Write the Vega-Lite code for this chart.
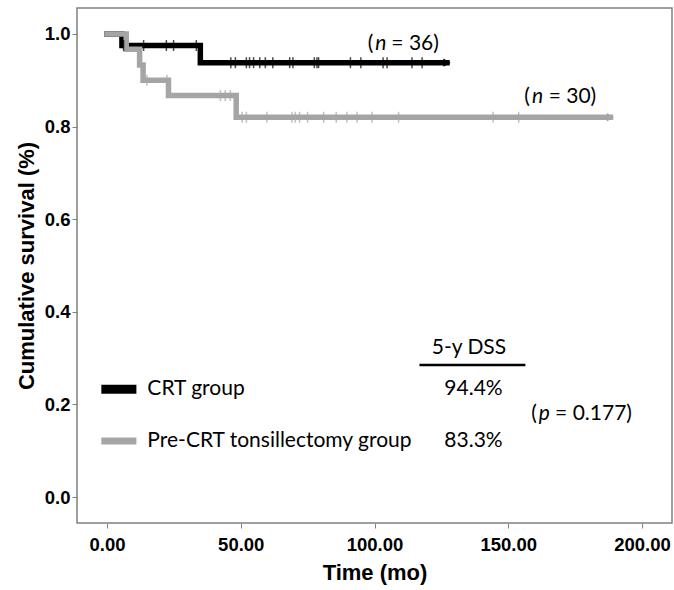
{
  "$schema": "https://vega.github.io/schema/vega-lite/v6.json",
  "width": 595,
  "height": 515,
  "autosize": {"type": "none"},
  "padding": {"left": 77, "top": 8, "right": 2, "bottom": 67},
  "background": "white",
  "data": {"values": [{}]},
  "config": {
    "view": {"stroke": "#808080", "strokeWidth": 1.5},
    "axis": {
      "domain": false, "grid": false, "tickColor": "#808080", "tickSize": 5, "tickWidth": 1,
      "labelFont": "Liberation Sans", "labelFontWeight": "bold", "labelFontSize": 18.5, "labelColor": "#000",
      "titleFont": "Liberation Sans", "titleFontWeight": "bold", "titleFontSize": 22, "titleColor": "#000"
    },
    "text": {"font": "Lato", "fontSize": 21, "color": "#000000", "align": "left", "baseline": "middle"}
  },
  "datasets": {
    "curves": [
      {"group": "CRT group", "t": 0, "s": 1.0},
      {"group": "CRT group", "t": 5.6, "s": 0.975},
      {"group": "CRT group", "t": 34.9, "s": 0.938},
      {"group": "CRT group", "t": 127.1, "s": 0.938},
      {"group": "Pre-CRT tonsillectomy group", "t": 0, "s": 1.0},
      {"group": "Pre-CRT tonsillectomy group", "t": 7.2, "s": 0.967},
      {"group": "Pre-CRT tonsillectomy group", "t": 12.2, "s": 0.933},
      {"group": "Pre-CRT tonsillectomy group", "t": 13.5, "s": 0.9},
      {"group": "Pre-CRT tonsillectomy group", "t": 23.0, "s": 0.867},
      {"group": "Pre-CRT tonsillectomy group", "t": 48.3, "s": 0.82},
      {"group": "Pre-CRT tonsillectomy group", "t": 188.2, "s": 0.82}
    ],
    "censored": [
      {"group": "CRT group", "t": 6.2, "s": 0.975},
      {"group": "CRT group", "t": 13.7, "s": 0.975},
      {"group": "CRT group", "t": 22.2, "s": 0.975},
      {"group": "CRT group", "t": 24.9, "s": 0.975},
      {"group": "CRT group", "t": 33.4, "s": 0.975},
      {"group": "CRT group", "t": 46.3, "s": 0.938},
      {"group": "CRT group", "t": 48.0, "s": 0.938},
      {"group": "CRT group", "t": 52.1, "s": 0.938},
      {"group": "CRT group", "t": 53.3, "s": 0.938},
      {"group": "CRT group", "t": 54.8, "s": 0.938},
      {"group": "CRT group", "t": 57.1, "s": 0.938},
      {"group": "CRT group", "t": 59.2, "s": 0.938},
      {"group": "CRT group", "t": 62.0, "s": 0.938},
      {"group": "CRT group", "t": 68.3, "s": 0.938},
      {"group": "CRT group", "t": 69.5, "s": 0.938},
      {"group": "CRT group", "t": 77.5, "s": 0.938},
      {"group": "CRT group", "t": 78.5, "s": 0.938},
      {"group": "CRT group", "t": 79.1, "s": 0.938},
      {"group": "CRT group", "t": 91.0, "s": 0.938},
      {"group": "CRT group", "t": 94.9, "s": 0.938},
      {"group": "CRT group", "t": 103.2, "s": 0.938},
      {"group": "CRT group", "t": 104.7, "s": 0.938},
      {"group": "CRT group", "t": 114.0, "s": 0.938},
      {"group": "CRT group", "t": 117.8, "s": 0.938},
      {"group": "Pre-CRT tonsillectomy group", "t": 14.9, "s": 0.9},
      {"group": "Pre-CRT tonsillectomy group", "t": 22.4, "s": 0.9},
      {"group": "Pre-CRT tonsillectomy group", "t": 42.4, "s": 0.867},
      {"group": "Pre-CRT tonsillectomy group", "t": 44.2, "s": 0.867},
      {"group": "Pre-CRT tonsillectomy group", "t": 46.1, "s": 0.867},
      {"group": "Pre-CRT tonsillectomy group", "t": 50.5, "s": 0.82},
      {"group": "Pre-CRT tonsillectomy group", "t": 52.1, "s": 0.82},
      {"group": "Pre-CRT tonsillectomy group", "t": 59.8, "s": 0.82},
      {"group": "Pre-CRT tonsillectomy group", "t": 69.2, "s": 0.82},
      {"group": "Pre-CRT tonsillectomy group", "t": 70.4, "s": 0.82},
      {"group": "Pre-CRT tonsillectomy group", "t": 72.0, "s": 0.82},
      {"group": "Pre-CRT tonsillectomy group", "t": 75.0, "s": 0.82},
      {"group": "Pre-CRT tonsillectomy group", "t": 81.0, "s": 0.82},
      {"group": "Pre-CRT tonsillectomy group", "t": 85.7, "s": 0.82},
      {"group": "Pre-CRT tonsillectomy group", "t": 89.7, "s": 0.82},
      {"group": "Pre-CRT tonsillectomy group", "t": 93.5, "s": 0.82},
      {"group": "Pre-CRT tonsillectomy group", "t": 99.1, "s": 0.82},
      {"group": "Pre-CRT tonsillectomy group", "t": 109.0, "s": 0.82},
      {"group": "Pre-CRT tonsillectomy group", "t": 144.3, "s": 0.82},
      {"group": "Pre-CRT tonsillectomy group", "t": 153.9, "s": 0.82}
    ],
    "ends": [
      {"group": "CRT group", "t": 127.1, "s": 0.938},
      {"group": "Pre-CRT tonsillectomy group", "t": 188.2, "s": 0.82}
    ]
  },
  "layer": [
    {
      "data": {"name": "curves"},
      "mark": {"type": "line", "interpolate": "step-after", "strokeWidth": 5.5, "strokeCap": "square"},
      "encoding": {
        "x": {"field": "t", "type": "quantitative", "title": "Time (mo)",
              "scale": {"domain": [-11.2, 211.2], "nice": false, "zero": false},
              "axis": {"values": [0, 50, 100, 150, 200], "format": ".2f", "labelPadding": 7, "titlePadding": 9}},
        "y": {"field": "s", "type": "quantitative", "title": "Cumulative survival (%)",
              "scale": {"domain": [-0.056, 1.056], "nice": false, "zero": false},
              "axis": {"values": [0, 0.2, 0.4, 0.6, 0.8, 1.0], "format": ".1f", "labelPadding": 2, "titlePadding": 6}},
        "color": {"field": "group", "type": "nominal",
                  "scale": {"domain": ["CRT group", "Pre-CRT tonsillectomy group"], "range": ["#000000", "#a5a5a5"]},
                  "legend": null}
      }
    },
    {
      "data": {"name": "censored"},
      "mark": {"type": "tick", "orient": "vertical", "size": 11, "thickness": 1.5},
      "encoding": {
        "x": {"field": "t", "type": "quantitative"},
        "y": {"field": "s", "type": "quantitative"},
        "color": {"field": "group", "type": "nominal", "legend": null}
      }
    },
    {
      "data": {"name": "ends"},
      "mark": {"type": "point", "shape": "triangle-right", "filled": true, "size": 70, "opacity": 1},
      "encoding": {
        "x": {"field": "t", "type": "quantitative"},
        "y": {"field": "s", "type": "quantitative"},
        "color": {"field": "group", "type": "nominal", "legend": null}
      }
    },
    {
      "mark": {"type": "rule", "color": "#000000", "strokeWidth": 9},
      "encoding": {"x": {"datum": -2.1}, "x2": {"datum": 11.0}, "y": {"datum": 0.233}}
    },
    {
      "mark": {"type": "rule", "color": "#a5a5a5", "strokeWidth": 7},
      "encoding": {"x": {"datum": -2.1}, "x2": {"datum": 11.0}, "y": {"datum": 0.121}}
    },
    {
      "mark": {"type": "rule", "color": "#000000", "strokeWidth": 2.5},
      "encoding": {"x": {"datum": 116.8}, "x2": {"datum": 156.4}, "y": {"datum": 0.285}}
    },
    {"mark": {"type": "text", "text": "("}, "encoding": {"x": {"datum": 97.5}, "y": {"datum": 0.979}}},
    {"mark": {"type": "text", "text": "n", "fontStyle": "italic"}, "encoding": {"x": {"datum": 100.3}, "y": {"datum": 0.979}}},
    {"mark": {"type": "text", "text": "= 36)"}, "encoding": {"x": {"datum": 106.3}, "y": {"datum": 0.979}}},
    {"mark": {"type": "text", "text": "("}, "encoding": {"x": {"datum": 156.0}, "y": {"datum": 0.863}}},
    {"mark": {"type": "text", "text": "n", "fontStyle": "italic"}, "encoding": {"x": {"datum": 158.9}, "y": {"datum": 0.863}}},
    {"mark": {"type": "text", "text": "= 30)"}, "encoding": {"x": {"datum": 165.1}, "y": {"datum": 0.863}}},
    {"mark": {"type": "text", "text": "5-y DSS", "align": "center"}, "encoding": {"x": {"datum": 135.3}, "y": {"datum": 0.322}}},
    {"mark": {"type": "text", "text": "CRT group"}, "encoding": {"x": {"datum": 15.1}, "y": {"datum": 0.233}}},
    {"mark": {"type": "text", "text": "94.4%"}, "encoding": {"x": {"datum": 126.1}, "y": {"datum": 0.233}}},
    {"mark": {"type": "text", "text": "Pre-CRT tonsillectomy group"}, "encoding": {"x": {"datum": 15.1}, "y": {"datum": 0.121}}},
    {"mark": {"type": "text", "text": "83.3%"}, "encoding": {"x": {"datum": 126.1}, "y": {"datum": 0.121}}},
    {"mark": {"type": "text", "text": "("}, "encoding": {"x": {"datum": 158.6}, "y": {"datum": 0.179}}},
    {"mark": {"type": "text", "text": "p", "fontStyle": "italic"}, "encoding": {"x": {"datum": 161.4}, "y": {"datum": 0.179}}},
    {"mark": {"type": "text", "text": "= 0.177)"}, "encoding": {"x": {"datum": 167.5}, "y": {"datum": 0.179}}}
  ]
}
